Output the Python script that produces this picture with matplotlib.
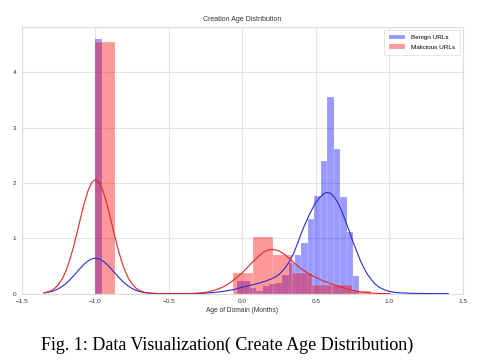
import numpy as np
import matplotlib
matplotlib.use("Agg")
import matplotlib.pyplot as plt

# histogram bins (left edge of first bin, bin width) and normalised heights
benign_start, benign_width = -1.0, 0.0438
benign_heights = [4.59] + [0.0] * 21 + [
    0.22, 0.22, 0.10, 0.05, 0.13, 0.17, 0.19, 0.33, 0.55, 0.70,
    0.91, 1.34, 1.76, 2.40, 3.56, 2.61, 1.75, 1.12, 0.31]

malicious_start, malicious_width = -1.0, 0.134
malicious_heights = [4.55, 0, 0, 0, 0, 0, 0, 0.38, 1.03, 0.70, 0.37, 0.15, 0.15, 0.05]

# density curves, every 0.025 starting at -1.35
kde_start, kde_step = -1.35, 0.025
benign_kde = [
    0.014, 0.024, 0.039, 0.061, 0.092, 0.133, 0.185, 0.248, 0.319, 0.394,
    0.469, 0.538, 0.592, 0.628, 0.640, 0.628, 0.592, 0.538, 0.469, 0.394,
    0.319, 0.248, 0.185, 0.133, 0.092, 0.061, 0.039, 0.024, 0.014, 0.008,
    0.005, 0.002, 0.001, 0.0, 0.0, 0.0, 0.0, 0.0, 0.0, 0.001,
    0.002, 0.003, 0.005, 0.007, 0.010, 0.015, 0.020, 0.027, 0.035, 0.045,
    0.055, 0.067, 0.080, 0.100, 0.120, 0.135, 0.150, 0.165, 0.180, 0.200,
    0.220, 0.245, 0.270, 0.305, 0.350, 0.420, 0.500, 0.610, 0.740, 0.910,
    1.090, 1.250, 1.400, 1.530, 1.650, 1.730, 1.800, 1.830, 1.810, 1.740,
    1.640, 1.490, 1.320, 1.140, 0.950, 0.780, 0.610, 0.470, 0.350, 0.260,
    0.180, 0.125, 0.090, 0.060, 0.040, 0.028, 0.020, 0.015, 0.012, 0.009,
    0.007, 0.005, 0.004, 0.003, 0.002, 0.0015, 0.001, 0.0007, 0.0005, 0.0002,
    0.0]
malicious_kde = [
    0.016, 0.031, 0.057, 0.101, 0.171, 0.274, 0.418, 0.608, 0.840, 1.105,
    1.383, 1.646, 1.864, 2.009, 2.060, 2.009, 1.864, 1.646, 1.383, 1.105,
    0.840, 0.608, 0.418, 0.274, 0.171, 0.101, 0.057, 0.031, 0.016, 0.008,
    0.0035, 0.0015, 0.0005, 0.0, 0.0, 0.0, 0.0, 0.0, 0.0, 0.001,
    0.003, 0.006, 0.010, 0.016, 0.025, 0.038, 0.055, 0.075, 0.100, 0.132,
    0.170, 0.215, 0.270, 0.322, 0.380, 0.450, 0.520, 0.590, 0.650, 0.710,
    0.760, 0.790, 0.800, 0.790, 0.770, 0.730, 0.680, 0.620, 0.560, 0.505,
    0.450, 0.405, 0.360, 0.325, 0.290, 0.260, 0.230, 0.205, 0.180, 0.157,
    0.135, 0.115, 0.095, 0.077, 0.060, 0.047, 0.035, 0.026, 0.018, 0.012,
    0.008, 0.005, 0.003, 0.001, 0.0]

plt.rcParams['font.family'] = ['Liberation Sans', 'DejaVu Sans']

fig = plt.figure(figsize=(4.83, 3.63), dpi=100)
ax = fig.add_axes([0.0455, 0.191, 0.913, 0.7354])

b_left = benign_start + benign_width * np.arange(len(benign_heights))
m_left = malicious_start + malicious_width * np.arange(len(malicious_heights))

ax.bar(b_left, benign_heights, width=benign_width, align='edge', color='blue',
       alpha=0.4, edgecolor='white', linewidth=0.3, label='Benign URLs', zorder=2)
ax.bar(m_left, malicious_heights, width=malicious_width, align='edge', color='red',
       alpha=0.4, edgecolor='white', linewidth=0.3, label='Malicious URLs', zorder=2)

bx = kde_start + kde_step * np.arange(len(benign_kde))
mx = kde_start + kde_step * np.arange(len(malicious_kde))
ax.plot(bx, benign_kde, color='#2a2ad2', lw=0.8, zorder=3)
ax.plot(mx, malicious_kde, color='#e02828', lw=0.8, zorder=3)

ax.set_xlim(-1.5, 1.5)
ax.set_ylim(0, 4.82)
ax.set_xticks([-1.5, -1.0, -0.5, 0.0, 0.5, 1.0, 1.5])
ax.set_yticks([0, 1, 2, 3, 4])
ax.grid(True, color='#e3e3e3', lw=0.8, zorder=0)
ax.set_axisbelow(True)
for s in ax.spines.values():
    s.set_color('#dcdcdc')
    s.set_linewidth(0.8)
ax.tick_params(length=0, labelsize=4.6, colors='#333333', pad=4)

ax.set_title('Creation Age Distribution', fontsize=5, color='#333333', pad=4)
ax.set_xlabel('Age of Domain (Months)', fontsize=4.8, color='#333333', labelpad=2)

leg = ax.legend(loc='upper right', fontsize=4.6, frameon=True, handlelength=2.5,
                borderpad=0.8, labelspacing=0.6, fancybox=False)
leg.get_frame().set_edgecolor('#dcdcdc')
leg.get_frame().set_linewidth(0.6)

fig.text(0.47, 0.05, 'Fig. 1: Data Visualization( Create Age Distribution)',
         ha='center', va='center', fontsize=13, family='Liberation Serif')

fig.savefig('out.png', dpi=100)
